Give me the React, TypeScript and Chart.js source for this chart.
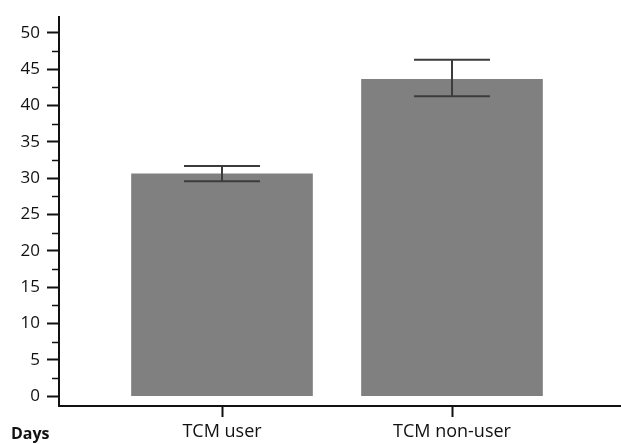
import React, { useEffect, useRef } from "react";
import { Chart, registerables } from "chart.js";

Chart.register(...registerables);

const categories = ["TCM user", "TCM non-user"];
const meanDays = [30.6, 43.6];
const lowerCI = [29.6, 41.3];
const upperCI = [31.7, 46.3];
const yMajorTicks = [0, 5, 10, 15, 20, 25, 30, 35, 40, 45, 50];
const yMinorTicks = [2.5, 7.5, 12.5, 17.5, 22.5, 27.5, 32.5, 37.5, 42.5, 47.5];
const axisNote = "Days";

const FONT = "'Open Sans', 'Noto Sans', sans-serif";

const overlayPlugin = {
  id: "overlay",
  afterDatasetsDraw(chart: any) {
    const { ctx, scales } = chart;
    const x = scales.x;
    const y = scales.y;
    ctx.save();
    ctx.strokeStyle = "#3c3c3c";
    ctx.lineWidth = 2;
    meanDays.forEach((_, i) => {
      const px = x.getPixelForValue(i);
      const lo = y.getPixelForValue(lowerCI[i]);
      const hi = y.getPixelForValue(upperCI[i]);
      ctx.beginPath();
      ctx.moveTo(px, lo);
      ctx.lineTo(px, hi);
      ctx.moveTo(px - 38, lo);
      ctx.lineTo(px + 38, lo);
      ctx.moveTo(px - 38, hi);
      ctx.lineTo(px + 38, hi);
      ctx.stroke();
    });
    ctx.strokeStyle = "#111";
    ctx.lineWidth = 1.5;
    const left = chart.chartArea.left;
    yMinorTicks.forEach((v) => {
      const py = Math.round(y.getPixelForValue(v)) + 0.5;
      ctx.beginPath();
      ctx.moveTo(left - 7, py);
      ctx.lineTo(left, py);
      ctx.stroke();
    });
    ctx.fillStyle = "#111";
    ctx.font = `bold 16px ${FONT}`;
    ctx.textBaseline = "alphabetic";
    ctx.textAlign = "left";
    ctx.fillText(axisNote, 11, 439);
    ctx.restore();
  },
};

export default function App() {
  const ref = useRef<HTMLCanvasElement | null>(null);
  useEffect(() => {
    document.body.style.margin = "0";
    const canvas = ref.current!;
    const chart = new Chart(canvas, {
      type: "bar",
      data: {
        datasets: [
          {
            data: meanDays.map((v, i) => ({ x: i, y: v })),
            backgroundColor: "#808080",
            borderWidth: 0,
            barThickness: 181,
          },
        ],
      },
      options: {
        animation: false,
        responsive: false,
        devicePixelRatio: 1,
        layout: { padding: { top: 12, right: 0, left: 0, bottom: 0 } },
        plugins: { legend: { display: false }, tooltip: { enabled: false } },
        scales: {
          x: {
            type: "linear",
            offset: false,
            min: -0.7087,
            max: -0.7087 + 562 / 230,
            afterBuildTicks: (s: any) => {
              s.ticks = categories.map((_, i) => ({ value: i }));
            },
            afterFit: (s: any) => {
              s.height = 38;
            },
            ticks: {
              callback: (v: any) => categories[v] ?? "",
              color: "#111",
              font: { family: FONT, size: 18 },
              padding: 4,
              maxRotation: 0,
              autoSkip: false,
            },
            grid: {
              display: true,
              offset: false,
              drawOnChartArea: false,
              drawTicks: true,
              tickLength: 11,
              tickColor: "#111",
              tickWidth: 2,
            },
            border: { display: true, color: "#111", width: 2 },
          },
          y: {
            type: "linear",
            min: -1.36,
            max: 52.17,
            afterBuildTicks: (s: any) => {
              s.ticks = yMajorTicks.map((v) => ({ value: v }));
            },
            afterFit: (s: any) => {
              s.width = 59;
            },
            ticks: {
              color: "#111",
              font: { family: FONT, size: 17 },
              padding: 7,
            },
            grid: {
              display: true,
              drawOnChartArea: false,
              drawTicks: true,
              tickLength: 12,
              tickColor: "#111",
              tickWidth: 2,
            },
            border: { display: true, color: "#111", width: 2 },
          },
        },
      },
      plugins: [overlayPlugin],
    } as any);
    return () => chart.destroy();
  }, []);
  return <canvas ref={ref} width={621} height={444} style={{ display: "block" }} />;
}
